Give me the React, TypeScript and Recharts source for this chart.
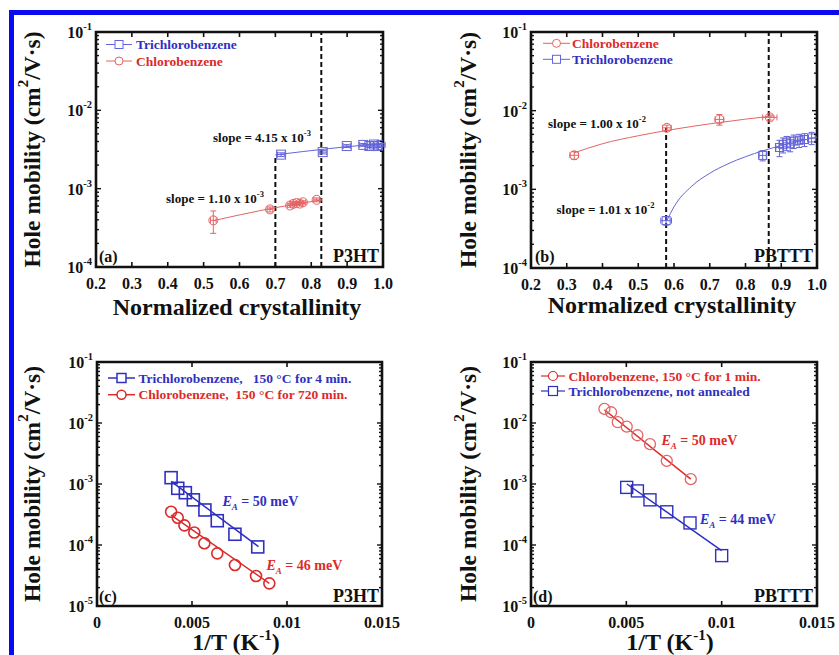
import React from 'react';
import { ComposedChart, XAxis, YAxis, Scatter, Line, ErrorBar, ReferenceLine, ReferenceArea } from 'recharts';

const FONT = '"Liberation Serif","Times New Roman",Times,serif';
const INK = '#111111';
const BLUE = '#3030c0';
const RED = '#dc2a2a';
const THIN_BLUE = '#6464d8';
const THIN_RED = '#e46464';

// ---------------- tick labels ----------------
const crystTicks = [0.2, 0.3, 0.4, 0.5, 0.6, 0.7, 0.8, 0.9, 1.0];
const invTTicks = [0, 0.005, 0.01, 0.015];
const invTLabels = ['0', '0.005', '0.01', '0.015'];
const decadesAB = [1e-4, 1e-3, 1e-2, 1e-1];
const decadesCD = [1e-5, 1e-4, 1e-3, 1e-2, 1e-1];

// ---------------- panel (a) P3HT, mobility vs crystallinity ----------------
const aTcbX = [0.716, 0.832, 0.899, 0.945, 0.962, 0.975, 0.986, 0.996];
const aTcbY = [2.72e-3, 2.93e-3, 3.5e-3, 3.62e-3, 3.5e-3, 3.66e-3, 3.5e-3, 3.62e-3];
const aTcbEx = [0.01, 0.01, 0.01, 0.01, 0.01, 0.01, 0.01, 0.01];
const aTcbEy = [1.5e-4, 1.5e-4, 1.5e-4, 1.5e-4, 1.5e-4, 1.5e-4, 1.5e-4, 1.5e-4];
const aCbX = [0.527, 0.685, 0.741, 0.75, 0.759, 0.768, 0.777, 0.815];
const aCbY = [3.94e-4, 5.44e-4, 6.1e-4, 6.4e-4, 6.55e-4, 6.45e-4, 6.7e-4, 7.2e-4];
const aCbEx = [0.008, 0.008, 0.008, 0.008, 0.008, 0.008, 0.008, 0.008];
const aCbEy = [1.25e-4, 4e-5, 3e-5, 3e-5, 3e-5, 3e-5, 3e-5, 4e-5];
const aTcbFitX = [0.7, 0.85, 1.0];
const aTcbFitY = [2.7e-3, 3.25e-3, 3.78e-3];
const aCbFitX = [0.527, 0.68, 0.83];
const aCbFitY = [3.9e-4, 5.5e-4, 7.2e-4];
const aDash1 = { x: 0.7, top: 2.7e-3 };
const aDash2 = { x: 0.828, top: 1e-1 };

// ---------------- panel (b) PBTTT, mobility vs crystallinity ----------------
const bCbX = [0.321, 0.58, 0.727, 0.868];
const bCbY = [2.71e-3, 6.05e-3, 7.74e-3, 8.2e-3];
const bCbEx = [0.012, 0.012, 0.012, 0.02];
const bCbEy = [3e-4, 5e-4, 1.2e-3, 6e-4];
const bTcbX = [0.578, 0.848, 0.895, 0.905, 0.915, 0.925, 0.935, 0.95, 0.965, 0.985];
const bTcbY = [4.0e-4, 2.7e-3, 3.4e-3, 3.7e-3, 3.9e-3, 3.8e-3, 4.1e-3, 4.2e-3, 4.3e-3, 4.5e-3];
const bTcbEx = [0.015, 0.01, 0.01, 0.01, 0.01, 0.01, 0.01, 0.01, 0.01, 0.01];
const bTcbEy = [5e-5, 4e-4, 8e-4, 8e-4, 8e-4, 8e-4, 8e-4, 8e-4, 8e-4, 8e-4];
const bCbFitX = [0.32, 0.4, 0.5, 0.6, 0.7, 0.8, 0.88];
const bCbFitY = [2.9e-3, 3.8e-3, 4.8e-3, 5.8e-3, 6.8e-3, 7.8e-3, 8.6e-3];
const bTcbFitX = [0.58, 0.6, 0.65, 0.7, 0.75, 0.8, 0.85, 0.9, 0.95, 1.0];
const bTcbFitY = [4.0e-4, 6.0e-4, 1.1e-3, 1.6e-3, 2.1e-3, 2.6e-3, 3.1e-3, 3.6e-3, 4.1e-3, 4.6e-3];
const bDash1 = { x: 0.578, top: 6.05e-3 };
const bDash2 = { x: 0.865, top: 1e-1 };

// ---------------- panel (c) P3HT, Arrhenius ----------------
const cTcbX = [0.0039, 0.00425, 0.00465, 0.00507, 0.00568, 0.00633, 0.00726, 0.00846];
const cTcbY = [1.27e-3, 8.5e-4, 7.2e-4, 5.5e-4, 3.75e-4, 2.5e-4, 1.5e-4, 9.3e-5];
const cCbX = [0.0039, 0.00425, 0.0046, 0.00512, 0.00565, 0.00633, 0.00726, 0.00837, 0.00907];
const cCbY = [3.5e-4, 2.8e-4, 2.1e-4, 1.6e-4, 1.07e-4, 7.3e-5, 4.7e-5, 3.1e-5, 2.35e-5];
const cTcbFitX = [0.0039, 0.0085];
const cTcbFitY = [1.1e-3, 9.4e-5];
const cCbFitX = [0.0039, 0.00907];
const cCbFitY = [3.1e-4, 2.35e-5];

// ---------------- panel (d) PBTTT, Arrhenius ----------------
const dCbX = [0.00385, 0.0042, 0.00455, 0.00502, 0.00558, 0.00624, 0.00712, 0.00838];
const dCbY = [1.7e-2, 1.5e-2, 1.03e-2, 8.7e-3, 6.3e-3, 4.5e-3, 2.4e-3, 1.2e-3];
const dTcbX = [0.00502, 0.00558, 0.00624, 0.00712, 0.00834, 0.01];
const dTcbY = [8.8e-4, 7.7e-4, 5.5e-4, 3.5e-4, 2.3e-4, 6.7e-5];
const dCbFitX = [0.00385, 0.00838];
const dCbFitY = [1.65e-2, 1.2e-3];
const dTcbFitX = [0.00503, 0.01];
const dTcbFitY = [1.0e-3, 8.1e-5];

// ---------------- helpers ----------------
const pts = (xs: number[], ys: number[], ex?: number[], ey?: number[]) =>
  xs.map((x, i) => ({ x, y: ys[i], ex: ex ? ex[i] : 0, ey: ey ? ey[i] : 0 }));

function logTicks(decades: number[]) {
  const out: number[] = [];
  decades.forEach((d, i) => {
    out.push(d);
    if (i < decades.length - 1) for (let k = 2; k <= 9; k++) out.push(k * d);
  });
  return out;
}

const isDecade = (v: number) => {
  const lg = Math.log10(v);
  return Math.abs(lg - Math.round(lg)) < 1e-6;
};

const txt = { fontFamily: FONT, fontWeight: 'bold' as const };

function makeBottomTick(plotH: number, fmt: (v: number, i: number) => string) {
  return (p: any) => {
    const { x, y, payload, index } = p;
    return (
      <g>
        <line x1={x} x2={x} y1={y} y2={y - 5} stroke={INK} strokeWidth={1.6} />
        <line x1={x} x2={x} y1={y - plotH} y2={y - plotH + 5} stroke={INK} strokeWidth={1.6} />
        <text x={x} y={y + 21.5} textAnchor="middle" fontSize={16} fill={INK} {...txt}>
          {fmt(payload.value, index)}
        </text>
      </g>
    );
  };
}

function makeLeftTick(plotW: number) {
  return (p: any) => {
    const { x, y, payload } = p;
    const v = payload.value;
    const major = isDecade(v);
    const len = major ? 5 : 3;
    const e = Math.round(Math.log10(v));
    return (
      <g>
        <line x1={x} x2={x + len} y1={y} y2={y} stroke={INK} strokeWidth={1.4} />
        <line x1={x + plotW} x2={x + plotW - len} y1={y} y2={y} stroke={INK} strokeWidth={1.4} />
        {major && (
          <text x={x - 4} y={y + 6} textAnchor="end" fontSize={16} fill={INK} {...txt}>
            10
            <tspan dy={-8} fontSize={10.5}>
              {String(e)}
            </tspan>
          </text>
        )}
      </g>
    );
  };
}

const squareShape = (size: number, color: string, sw: number) => (p: any) => (
  <rect x={p.cx - size / 2} y={p.cy - size / 2} width={size} height={size} fill="none" stroke={color} strokeWidth={sw} />
);
const circleShape = (r: number, color: string, sw: number) => (p: any) => (
  <circle cx={p.cx} cy={p.cy} r={r} fill="none" stroke={color} strokeWidth={sw} />
);

function YTitle({ cx, cy }: { cx: number; cy: number }) {
  return (
    <text
      x={cx}
      y={cy}
      transform={`rotate(-90 ${cx} ${cy})`}
      textAnchor="middle"
      dominantBaseline="central"
      fontSize={23.5}
      fill={INK}
      {...txt}
    >
      Hole mobility (cm
      <tspan dy={-9} fontSize={15}>
        2
      </tspan>
      <tspan dy={9}>/V·s)</tspan>
    </text>
  );
}

function LegendRow({
  x1, x2, y, color, marker, label, size, sw, textX, fontSize,
}: {
  x1: number; x2: number; y: number; color: string; marker: 'sq' | 'ci'; label: string; size: number; sw: number; textX: number; fontSize: number;
}) {
  const mx = (x1 + x2) / 2;
  return (
    <g>
      <line x1={x1} x2={x2} y1={y} y2={y} stroke={color} strokeWidth={sw} />
      {marker === 'sq' ? (
        <rect x={mx - size / 2} y={y - size / 2} width={size} height={size} fill="#fff" stroke={color} strokeWidth={sw} />
      ) : (
        <circle cx={mx} cy={y} r={size / 2} fill="#fff" stroke={color} strokeWidth={sw} />
      )}
      <text x={textX} y={y + 4.5} fontSize={fontSize} fill={color} {...txt}>
        {label}
      </text>
    </g>
  );
}

function Slope({ x, y, mant, exp }: { x: number; y: number; mant: string; exp: string }) {
  return (
    <text x={x} y={y} fontSize={13} fill={INK} {...txt}>
      {`slope = ${mant} x 10`}
      <tspan dy={-6} fontSize={8.5}>
        {exp}
      </tspan>
    </text>
  );
}

function Ea({ x, y, val, color }: { x: number; y: number; val: string; color: string }) {
  return (
    <text x={x} y={y} fontSize={14} fill={color} {...txt}>
      <tspan fontStyle="italic">E</tspan>
      <tspan dy={4} fontSize={9} fontStyle="italic">
        A
      </tspan>
      <tspan dy={-4}>{` = ${val} meV`}</tspan>
    </text>
  );
}

const axisCommon = {
  axisLine: false,
  tickLine: false,
  tickSize: 0,
  tickMargin: 0,
  interval: 0 as const,
  allowDataOverflow: true,
  type: 'number' as const,
};

// ---------------- panels ----------------
function PanelA() {
  const plotW = 287, plotH = 235;
  const tcb = pts(aTcbX, aTcbY, aTcbEx, aTcbEy);
  const cb = pts(aCbX, aCbY, aCbEx, aCbEy);
  return (
    <ComposedChart width={420} height={330} margin={{ top: 32, right: 37, bottom: 0, left: 0 }}>
      <XAxis xAxisId="x" dataKey="x" domain={[0.2, 1]} ticks={crystTicks} height={63} tick={makeBottomTick(plotH, (v) => v.toFixed(1))} {...axisCommon} />
      <YAxis yAxisId="y" dataKey="y" scale="log" domain={[1e-4, 1e-1]} ticks={logTicks(decadesAB)} width={96} tick={makeLeftTick(plotW)} {...axisCommon} />
      <ReferenceArea xAxisId="x" yAxisId="y" x1={0.2} x2={1} y1={1e-4} y2={1e-1} fill="none" fillOpacity={0} stroke={INK} strokeWidth={2.6} ifOverflow="visible" />
      <ReferenceLine xAxisId="x" yAxisId="y" segment={[{ x: aDash1.x, y: 1e-4 }, { x: aDash1.x, y: aDash1.top }]} stroke={INK} strokeWidth={2} strokeDasharray="5 3" ifOverflow="visible" />
      <ReferenceLine xAxisId="x" yAxisId="y" segment={[{ x: aDash2.x, y: 1e-4 }, { x: aDash2.x, y: aDash2.top }]} stroke={INK} strokeWidth={2} strokeDasharray="5 3" ifOverflow="visible" />
      <Line xAxisId="x" yAxisId="y" data={pts(aTcbFitX, aTcbFitY)} dataKey="y" type="monotone" stroke={THIN_BLUE} strokeWidth={1} dot={false} activeDot={false} isAnimationActive={false} />
      <Line xAxisId="x" yAxisId="y" data={pts(aCbFitX, aCbFitY)} dataKey="y" type="monotone" stroke={THIN_RED} strokeWidth={1} dot={false} activeDot={false} isAnimationActive={false} />
      <Scatter xAxisId="x" yAxisId="y" data={tcb} dataKey="y" shape={squareShape(9, THIN_BLUE, 1)} isAnimationActive={false}>
        <ErrorBar dataKey="ey" direction="y" width={3} stroke={THIN_BLUE} strokeWidth={1} isAnimationActive={false} />
        <ErrorBar dataKey="ex" direction="x" width={3} stroke={THIN_BLUE} strokeWidth={1} isAnimationActive={false} />
      </Scatter>
      <Scatter xAxisId="x" yAxisId="y" data={cb} dataKey="y" shape={circleShape(4.5, THIN_RED, 1)} isAnimationActive={false}>
        <ErrorBar dataKey="ey" direction="y" width={3} stroke={THIN_RED} strokeWidth={1} isAnimationActive={false} />
        <ErrorBar dataKey="ex" direction="x" width={3} stroke={THIN_RED} strokeWidth={1} isAnimationActive={false} />
      </Scatter>
      <LegendRow x1={106} x2={132} y={44.5} color={THIN_BLUE} marker="sq" label="" size={8} sw={1} textX={136} fontSize={13.5} />
      <text x={136} y={49} fontSize={13.5} fill={BLUE} {...txt}>Trichlorobenzene</text>
      <LegendRow x1={106} x2={132} y={61} color={THIN_RED} marker="ci" label="" size={8} sw={1} textX={136} fontSize={13.5} />
      <text x={136} y={65.5} fontSize={13.5} fill={RED} {...txt}>Chlorobenzene</text>
      <Slope x={213} y={142} mant="4.15" exp="-3" />
      <Slope x={166} y={203} mant="1.10" exp="-3" />
      <text x={99} y={262} fontSize={16} fill={INK} {...txt}>(a)</text>
      <text x={379} y={262} textAnchor="end" fontSize={18} fill={INK} {...txt}>P3HT</text>
      <YTitle cx={32} cy={149.5} />
      <text x={237} y={315} textAnchor="middle" fontSize={24} fill={INK} {...txt}>Normalized crystallinity</text>
    </ComposedChart>
  );
}

function PanelB() {
  const plotW = 286, plotH = 236;
  const cb = pts(bCbX, bCbY, bCbEx, bCbEy);
  const tcb = pts(bTcbX, bTcbY, bTcbEx, bTcbEy);
  return (
    <ComposedChart width={419} height={330} margin={{ top: 32, right: 22, bottom: 0, left: 0 }}>
      <XAxis xAxisId="x" dataKey="x" domain={[0.2, 1]} ticks={crystTicks} height={62} tick={makeBottomTick(plotH, (v) => v.toFixed(1))} {...axisCommon} />
      <YAxis yAxisId="y" dataKey="y" scale="log" domain={[1e-4, 1e-1]} ticks={logTicks(decadesAB)} width={111} tick={makeLeftTick(plotW)} {...axisCommon} />
      <ReferenceArea xAxisId="x" yAxisId="y" x1={0.2} x2={1} y1={1e-4} y2={1e-1} fill="none" fillOpacity={0} stroke={INK} strokeWidth={2.6} ifOverflow="visible" />
      <ReferenceLine xAxisId="x" yAxisId="y" segment={[{ x: bDash1.x, y: 1e-4 }, { x: bDash1.x, y: bDash1.top }]} stroke={INK} strokeWidth={2} strokeDasharray="5 3" ifOverflow="visible" />
      <ReferenceLine xAxisId="x" yAxisId="y" segment={[{ x: bDash2.x, y: 1e-4 }, { x: bDash2.x, y: bDash2.top }]} stroke={INK} strokeWidth={2} strokeDasharray="5 3" ifOverflow="visible" />
      <Line xAxisId="x" yAxisId="y" data={pts(bCbFitX, bCbFitY)} dataKey="y" type="monotone" stroke={THIN_RED} strokeWidth={1} dot={false} activeDot={false} isAnimationActive={false} />
      <Line xAxisId="x" yAxisId="y" data={pts(bTcbFitX, bTcbFitY)} dataKey="y" type="monotone" stroke={THIN_BLUE} strokeWidth={1} dot={false} activeDot={false} isAnimationActive={false} />
      <Scatter xAxisId="x" yAxisId="y" data={cb} dataKey="y" shape={circleShape(4.5, THIN_RED, 1)} isAnimationActive={false}>
        <ErrorBar dataKey="ey" direction="y" width={3} stroke={THIN_RED} strokeWidth={1} isAnimationActive={false} />
        <ErrorBar dataKey="ex" direction="x" width={3} stroke={THIN_RED} strokeWidth={1} isAnimationActive={false} />
      </Scatter>
      <Scatter xAxisId="x" yAxisId="y" data={tcb} dataKey="y" shape={squareShape(8, THIN_BLUE, 1)} isAnimationActive={false}>
        <ErrorBar dataKey="ey" direction="y" width={3} stroke={THIN_BLUE} strokeWidth={1} isAnimationActive={false} />
        <ErrorBar dataKey="ex" direction="x" width={3} stroke={THIN_BLUE} strokeWidth={1} isAnimationActive={false} />
      </Scatter>
      <LegendRow x1={123} x2={150} y={43.3} color={THIN_RED} marker="ci" label="" size={8} sw={1} textX={152} fontSize={13.5} />
      <text x={152} y={47.8} fontSize={13.5} fill={RED} {...txt}>Chlorobenzene</text>
      <LegendRow x1={123} x2={150} y={59.3} color={THIN_BLUE} marker="sq" label="" size={8} sw={1} textX={152} fontSize={13.5} />
      <text x={152} y={63.8} fontSize={13.5} fill={BLUE} {...txt}>Trichlorobenzene</text>
      <Slope x={128} y={127.5} mant="1.00" exp="-2" />
      <Slope x={136.5} y={213.5} mant="1.01" exp="-2" />
      <text x={115} y={262} fontSize={16} fill={INK} {...txt}>(b)</text>
      <text x={393} y={262} textAnchor="end" fontSize={18} fill={INK} {...txt}>PBTTT</text>
      <YTitle cx={48} cy={150} />
      <text x={252} y={313} textAnchor="middle" fontSize={24} fill={INK} {...txt}>Normalized crystallinity</text>
    </ComposedChart>
  );
}

function XTitleInvT({ cx, y }: { cx: number; y: number }) {
  return (
    <text x={cx} y={y} textAnchor="middle" fontSize={24} fill={INK} {...txt}>
      1/T (K
      <tspan dy={-10} fontSize={15}>
        -1
      </tspan>
      <tspan dy={10}>)</tspan>
    </text>
  );
}

function PanelC() {
  const plotW = 285, plotH = 244;
  return (
    <ComposedChart width={420} height={325} margin={{ top: 32, right: 38, bottom: 0, left: 0 }}>
      <XAxis xAxisId="x" dataKey="x" domain={[0, 0.015]} ticks={invTTicks} height={49} tick={makeBottomTick(plotH, (_v, i) => invTLabels[i])} {...axisCommon} />
      <YAxis yAxisId="y" dataKey="y" scale="log" domain={[1e-5, 1e-1]} ticks={logTicks(decadesCD)} width={97} tick={makeLeftTick(plotW)} {...axisCommon} />
      <ReferenceArea xAxisId="x" yAxisId="y" x1={0} x2={0.015} y1={1e-5} y2={1e-1} fill="none" fillOpacity={0} stroke={INK} strokeWidth={2.6} ifOverflow="visible" />
      <Line xAxisId="x" yAxisId="y" data={pts(cTcbFitX, cTcbFitY)} dataKey="y" type="linear" stroke={BLUE} strokeWidth={1.5} dot={false} activeDot={false} isAnimationActive={false} />
      <Line xAxisId="x" yAxisId="y" data={pts(cCbFitX, cCbFitY)} dataKey="y" type="linear" stroke={RED} strokeWidth={1.5} dot={false} activeDot={false} isAnimationActive={false} />
      <Scatter xAxisId="x" yAxisId="y" data={pts(cTcbX, cTcbY)} dataKey="y" shape={squareShape(12, BLUE, 1.6)} isAnimationActive={false} />
      <Scatter xAxisId="x" yAxisId="y" data={pts(cCbX, cCbY)} dataKey="y" shape={circleShape(5.5, RED, 1.6)} isAnimationActive={false} />
      <LegendRow x1={108} x2={135} y={48} color={BLUE} marker="sq" label="" size={9} sw={1.5} textX={138} fontSize={13.5} />
      <text x={138.5} y={52.5} fontSize={13.5} fill={BLUE} {...txt} xmlSpace="preserve">Trichlorobenzene,   150 °C for 4 min.</text>
      <LegendRow x1={108} x2={135} y={64.7} color={RED} marker="ci" label="" size={9} sw={1.5} textX={138} fontSize={13.5} />
      <text x={138.5} y={69.2} fontSize={13.5} fill={RED} {...txt} xmlSpace="preserve">Chlorobenzene,  150 °C for 720 min.</text>
      <Ea x={222.5} y={176} val="50" color={BLUE} />
      <Ea x={266.5} y={240} val="46" color={RED} />
      <text x={99} y={272} fontSize={16} fill={INK} {...txt}>(c)</text>
      <text x={379} y={272} textAnchor="end" fontSize={18} fill={INK} {...txt}>P3HT</text>
      <YTitle cx={32} cy={154} />
      <XTitleInvT cx={236} y={320} />
    </ComposedChart>
  );
}

function PanelD() {
  const plotW = 286, plotH = 244;
  return (
    <ComposedChart width={419} height={325} margin={{ top: 32, right: 22, bottom: 0, left: 0 }}>
      <XAxis xAxisId="x" dataKey="x" domain={[0, 0.015]} ticks={invTTicks} height={49} tick={makeBottomTick(plotH, (_v, i) => invTLabels[i])} {...axisCommon} />
      <YAxis yAxisId="y" dataKey="y" scale="log" domain={[1e-5, 1e-1]} ticks={logTicks(decadesCD)} width={111} tick={makeLeftTick(plotW)} {...axisCommon} />
      <ReferenceArea xAxisId="x" yAxisId="y" x1={0} x2={0.015} y1={1e-5} y2={1e-1} fill="none" fillOpacity={0} stroke={INK} strokeWidth={2.6} ifOverflow="visible" />
      <Line xAxisId="x" yAxisId="y" data={pts(dCbFitX, dCbFitY)} dataKey="y" type="linear" stroke={RED} strokeWidth={1.5} dot={false} activeDot={false} isAnimationActive={false} />
      <Line xAxisId="x" yAxisId="y" data={pts(dTcbFitX, dTcbFitY)} dataKey="y" type="linear" stroke={BLUE} strokeWidth={1.5} dot={false} activeDot={false} isAnimationActive={false} />
      <Scatter xAxisId="x" yAxisId="y" data={pts(dCbX, dCbY)} dataKey="y" shape={circleShape(5.5, THIN_RED, 1.3)} isAnimationActive={false} />
      <Scatter xAxisId="x" yAxisId="y" data={pts(dTcbX, dTcbY)} dataKey="y" shape={squareShape(12, BLUE, 1.4)} isAnimationActive={false} />
      <LegendRow x1={121} x2={145} y={46} color={RED} marker="ci" label="" size={9} sw={1.2} textX={148} fontSize={13.5} />
      <text x={148.5} y={50.5} fontSize={13.5} fill={RED} {...txt}>Chlorobenzene, 150 °C for 1 min.</text>
      <LegendRow x1={121} x2={145} y={61} color={BLUE} marker="sq" label="" size={9} sw={1.2} textX={148} fontSize={13.5} />
      <text x={148.5} y={65.5} fontSize={13.5} fill={BLUE} {...txt}>Trichlorobenzene, not annealed</text>
      <Ea x={241.5} y={115} val="50" color={RED} />
      <Ea x={280} y={193.5} val="44" color={BLUE} />
      <text x={113} y={272} fontSize={16} fill={INK} {...txt}>(d)</text>
      <text x={393} y={272} textAnchor="end" fontSize={18} fill={INK} {...txt}>PBTTT</text>
      <YTitle cx={48} cy={154} />
      <XTitleInvT cx={250} y={320} />
    </ComposedChart>
  );
}

export default function App() {
  return (
    <div style={{ position: 'absolute', left: 0, top: 0, width: 839, height: 655, background: '#fff', overflow: 'hidden' }}>
      <div style={{ position: 'absolute', left: 0, top: 0 }}><PanelA /></div>
      <div style={{ position: 'absolute', left: 420, top: 0 }}><PanelB /></div>
      <div style={{ position: 'absolute', left: 0, top: 330 }}><PanelC /></div>
      <div style={{ position: 'absolute', left: 420, top: 330 }}><PanelD /></div>
      <div style={{ position: 'absolute', left: 9, top: 10, width: 830, height: 5, background: '#0a0af0' }} />
      <div style={{ position: 'absolute', left: 9, top: 10, width: 5, height: 645, background: '#0a0af0' }} />
    </div>
  );
}
